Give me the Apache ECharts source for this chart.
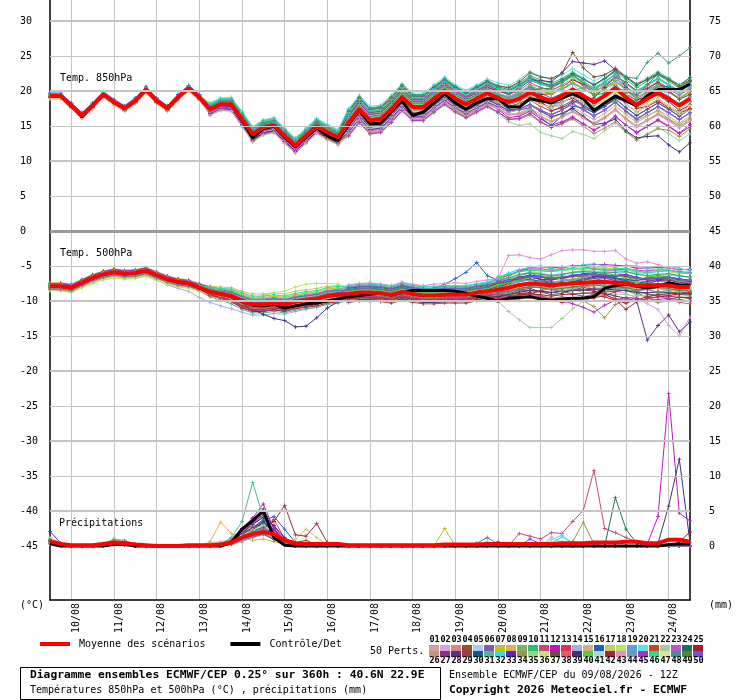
<!DOCTYPE html>
<html><head><meta charset="utf-8">
<script src="https://cdn.jsdelivr.net/npm/echarts@6.0.0/dist/echarts.min.js"></script>
<style>html,body{margin:0;padding:0;background:#fff}#c{width:740px;height:700px}</style>
</head><body><div id="c"></div>
<script>
const categories = ["09/08 12Z","09/08 18Z",
"10/08 00Z","10/08 06Z","10/08 12Z","10/08 18Z","11/08 00Z","11/08 06Z","11/08 12Z","11/08 18Z",
"12/08 00Z","12/08 06Z","12/08 12Z","12/08 18Z","13/08 00Z","13/08 06Z","13/08 12Z","13/08 18Z",
"14/08 00Z","14/08 06Z","14/08 12Z","14/08 18Z","15/08 00Z","15/08 06Z","15/08 12Z","15/08 18Z",
"16/08 00Z","16/08 06Z","16/08 12Z","16/08 18Z","17/08 00Z","17/08 06Z","17/08 12Z","17/08 18Z",
"18/08 00Z","18/08 06Z","18/08 12Z","18/08 18Z","19/08 00Z","19/08 06Z","19/08 12Z","19/08 18Z",
"20/08 00Z","20/08 06Z","20/08 12Z","20/08 18Z","21/08 00Z","21/08 06Z","21/08 12Z","21/08 18Z",
"22/08 00Z","22/08 06Z","22/08 12Z","22/08 18Z","23/08 00Z","23/08 06Z","23/08 12Z","23/08 18Z",
"24/08 00Z","24/08 06Z","24/08 12Z"];
const leftTicks = [-45,-40,-35,-30,-25,-20,-15,-10,-5,0,5,10,15,20,25,30];
const rightTicks = [0,5,10,15,20,25,30,35,40,45,50,55,60,65,70,75];
const gridMinor = [25,15,5,-5,-15,-25,-35];
const gridMajor = [30,20,10,-10,-20,-30,-40];

const t850Mean = [19.3,19.3,17.9,16.5,17.9,19.5,18.4,17.5,18.6,20.2,18.6,17.5,19.1,20.4,19.1,17.4,18.1,18.1,16.0,13.8,14.8,15.1,13.6,12.2,13.6,15.0,14.1,13.4,15.5,17.4,15.8,16.0,17.4,19.1,17.7,17.7,18.9,20.0,18.9,18.1,18.9,19.7,19.0,18.4,18.9,19.8,19.1,18.6,19.3,20.2,19.3,18.4,19.3,20.4,19.1,18.0,18.9,19.8,18.9,17.9,18.9];
const t850Control = [19.3,19.3,17.9,16.3,17.9,19.5,18.4,17.5,18.6,20.2,18.6,17.5,19.1,20.4,19.1,17.4,18.1,18.0,15.8,13.3,14.6,15.0,13.4,12.0,13.4,14.7,13.6,12.9,15.2,17.2,15.3,15.4,17.0,18.6,16.5,17.0,18.3,19.6,18.3,17.4,18.3,18.9,18.9,17.7,17.7,18.9,18.6,18.3,19.0,19.6,18.9,17.2,18.3,19.3,18.6,17.9,19.3,20.2,20.2,20.2,21.0];
const t500Mean = [-7.9,-7.9,-8.1,-7.4,-6.7,-6.2,-5.9,-6.1,-6.0,-5.7,-6.3,-6.9,-7.3,-7.5,-8.1,-8.7,-9.0,-9.3,-10.0,-10.5,-10.5,-10.3,-10.5,-10.1,-9.9,-9.7,-9.3,-9.1,-9.0,-8.8,-8.8,-8.9,-9.1,-8.7,-9.0,-9.2,-9.2,-9.1,-9.1,-9.1,-8.8,-8.6,-8.4,-8.1,-7.7,-7.5,-7.6,-7.8,-7.6,-7.5,-7.4,-7.3,-7.3,-7.4,-7.5,-7.8,-7.8,-7.7,-7.8,-8.0,-8.0];
const t500Control = [-7.9,-7.9,-8.1,-7.4,-6.7,-6.2,-5.9,-6.1,-6.0,-5.7,-6.3,-6.9,-7.3,-7.5,-8.1,-8.7,-9.0,-9.4,-10.1,-10.6,-10.7,-10.5,-11.0,-10.7,-10.4,-10.3,-10.0,-9.7,-9.4,-9.2,-9.0,-8.9,-9.2,-8.8,-8.5,-8.5,-8.5,-8.5,-8.6,-8.9,-9.3,-9.6,-10.0,-9.6,-9.5,-9.4,-9.7,-9.9,-9.7,-9.6,-9.6,-9.4,-8.2,-7.8,-7.6,-7.9,-8.1,-7.9,-7.4,-7.7,-7.8];
const precipMean = [0.7,0.3,0.1,0.1,0.1, 0.3,0.5,0.4,0.2,0.1, 0,0,0,0.1,0.1, 0.1,0.2,0.5,1.2,1.7, 2.0,1.7,0.8,0.4,0.3, 0.3,0.3,0.3,0.1,0.1, 0.1,0.1,0.1,0.1,0.1, 0.1,0.1,0.2,0.2,0.2, 0.2,0.3,0.3,0.3,0.3, 0.3,0.3,0.3,0.4,0.4, 0.4,0.5,0.5,0.5,0.6, 0.6,0.4,0.4,0.9,0.9, 0.6];
const precipControl = [0.3,0,0,0,0, 0,0.2,0.2,0,0, 0,0,0,0,0, 0,0,0.5,2.4,3.6, 5.0,1.2,0.1,0,0, 0,0,0,0,0, 0,0,0,0,0, 0,0,0,0,0, 0,0,0,0,0, 0,0,0,0,0, 0,0,0,0,0, 0,0,0,0.2,0.3, 0.3];

const t850Members = [
[19.5,19.5,18.1,16.7,18.1,19.7,18.6,17.7,18.8,20.4,18.8,17.7,19.3,20.6,19.3,17.8,18.5,18.5,16.5,14.3,15.2,15.7,14.1,12.6,14.1,15.4,14.7,13.9,16.2,18.3,16.5,16.9,18.2,19.8,18.6,18.4,19.7,20.9,19.6,18.9,19.8,20.4,19.6,19.1,19.8,20.9,20.5,20.0,20.9,21.7,20.8,19.9,20.7,21.9,20.6,19.4,20.4,21.4,20.3,19.3,20.4],
[19.1,19.1,17.7,16.3,17.7,19.3,18.2,17.3,18.4,20.0,18.4,17.3,18.9,20.2,18.9,17.1,17.8,17.7,15.6,13.4,14.4,14.7,13.2,11.8,13.2,14.6,13.7,13.0,14.6,16.5,14.8,15.0,16.3,18.0,16.7,16.8,17.9,18.9,17.8,17.1,17.9,18.6,18.0,17.1,17.3,17.9,17.2,16.6,17.3,18.1,17.4,16.5,17.2,18.4,17.1,16.1,16.9,17.7,16.8,15.9,16.8],
[19.4,19.4,18.0,16.6,18.0,19.6,18.5,17.6,18.7,20.3,18.7,17.6,19.2,20.5,19.2,18.0,18.7,18.8,16.8,14.6,15.6,15.9,14.4,13.0,14.4,15.8,14.9,14.2,16.6,18.6,17.1,17.1,18.6,20.4,18.9,18.9,20.0,21.3,20.1,19.2,20.1,20.9,20.0,19.6,20.4,21.6,21.1,20.6,21.3,22.1,21.4,20.3,21.2,22.5,21.0,20.0,20.8,21.9,20.9,19.9,20.8],
[19.2,19.2,17.8,16.4,17.8,19.4,18.3,17.4,18.5,20.1,18.5,17.4,19.0,20.3,19.0,17.6,18.4,18.4,16.3,14.1,15.1,15.4,13.9,12.5,13.9,15.3,14.4,13.7,16.0,17.9,16.2,16.5,17.9,19.6,18.2,18.2,19.4,20.5,19.4,18.6,19.4,20.2,19.4,18.9,19.5,20.5,20.0,19.6,20.3,21.2,20.3,19.4,20.3,21.4,20.1,19.0,19.9,20.8,19.9,18.9,19.9],
[19.6,19.6,18.2,16.8,18.2,19.8,18.7,17.8,18.9,20.5,18.9,17.8,19.4,20.7,19.4,17.2,17.9,17.9,15.8,13.6,14.6,14.9,13.4,12.0,13.4,14.8,13.9,13.2,15.0,16.9,15.3,15.5,16.9,18.6,17.2,17.2,18.4,19.5,18.4,17.6,18.4,19.2,18.6,17.8,18.2,19.0,18.2,17.6,18.3,19.2,18.8,18.5,19.8,21.2,20.4,19.6,20.8,22.0,21.0,20.1,21.2],
[19.3,19.3,17.9,16.5,17.9,19.5,18.4,17.5,18.6,20.2,18.6,17.5,19.1,20.4,19.1,17.9,18.6,18.6,16.6,14.4,15.4,15.7,14.2,12.8,14.2,15.6,14.7,14.0,16.8,18.9,17.3,17.5,18.9,20.6,19.2,19.2,20.4,21.5,20.4,19.6,20.4,21.2,20.5,19.7,19.9,20.6,19.7,19.0,19.6,20.4,19.4,18.5,19.5,20.8,19.6,18.6,19.6,20.7,19.8,18.9,19.9],
[19.0,19.0,17.6,16.2,17.6,19.2,18.1,17.2,18.3,19.9,18.3,17.2,18.8,20.1,18.8,16.8,17.5,17.4,15.2,13.0,14.0,14.3,12.8,11.4,12.8,14.2,13.3,12.7,15.6,17.7,16.1,16.3,17.7,19.4,18.0,18.0,19.2,20.3,19.2,18.4,19.2,20.0,19.4,18.9,19.6,20.7,20.0,19.5,20.3,21.2,20.4,19.3,20.2,21.5,20.1,19.0,19.8,20.9,20.0,18.9,19.8],
[19.5,19.5,18.1,16.7,18.1,19.7,18.6,17.7,18.8,20.4,18.8,17.7,19.3,20.6,19.3,17.6,18.3,18.3,16.2,14.0,15.0,15.3,13.8,12.4,13.8,15.2,14.2,13.5,14.5,16.3,14.6,14.8,16.2,17.8,16.5,16.5,17.7,18.7,17.7,16.9,17.6,18.4,17.6,16.7,16.8,17.3,16.4,15.7,16.3,17.1,16.3,15.4,16.2,17.4,16.1,15.0,15.9,16.7,15.9,14.9,15.8],
[19.2,19.2,17.8,16.4,17.8,19.4,18.3,17.4,18.5,20.1,18.5,17.4,19.0,20.3,19.0,17.0,17.7,17.6,15.5,13.3,14.3,14.6,13.1,11.7,13.1,14.5,13.6,12.9,15.7,17.6,16.0,16.2,17.6,19.3,17.9,17.9,19.1,20.2,19.1,18.3,19.1,19.9,19.1,18.5,19.0,19.9,19.0,18.4,19.2,20.3,19.0,17.6,18.0,18.6,17.0,15.8,16.5,17.2,16.0,15.2,16.1],
[19.6,19.6,18.2,16.8,18.2,19.8,18.7,17.8,18.9,20.5,18.9,17.8,19.4,20.7,19.4,18.2,18.9,19.0,17.0,14.8,15.8,16.1,14.6,13.2,14.6,16.0,15.1,14.4,17.3,19.2,17.6,17.8,19.2,20.9,19.5,19.5,20.7,21.8,20.7,19.9,20.7,21.5,20.8,20.4,21.1,22.2,21.6,21.1,21.8,22.7,21.8,20.9,21.8,22.9,21.6,20.5,21.4,22.3,21.4,20.4,21.4],
[18.9,18.9,17.5,16.1,17.5,19.1,18.0,17.1,18.2,19.8,18.2,17.1,18.7,20.0,18.7,16.9,17.6,17.6,15.4,13.2,14.2,14.5,13.0,11.6,13.0,14.4,13.5,12.8,14.7,16.6,15.0,15.2,16.6,18.3,16.9,16.9,18.1,19.2,18.1,17.3,18.1,18.9,18.3,17.6,17.9,18.7,17.8,17.1,17.8,18.7,17.8,16.9,17.8,18.9,17.6,16.5,17.4,18.3,17.4,16.4,17.4],
[19.3,19.3,17.9,16.5,17.9,19.5,18.4,17.5,18.6,20.2,18.6,17.5,19.1,20.4,19.1,17.2,17.9,17.8,15.7,13.5,14.5,14.8,13.3,11.9,13.3,14.7,13.8,13.1,14.0,15.9,14.3,14.5,15.9,17.6,16.2,16.2,17.3,18.4,17.3,16.6,17.3,18.2,17.4,16.2,16.4,17.1,16.0,15.1,15.6,16.3,15.3,14.4,15.2,16.4,15.1,14.1,15.0,15.9,15.0,14.0,15.2],
[19.4,19.4,18.0,16.6,18.0,19.6,18.5,17.6,18.7,20.3,18.7,17.6,19.2,20.5,19.2,17.7,18.4,18.4,16.4,14.2,15.2,15.5,14.0,12.6,14.0,15.4,14.5,13.8,16.1,18.0,16.4,16.6,18.0,19.7,18.3,18.3,19.5,20.6,19.5,18.7,19.5,20.3,19.5,19.0,19.6,20.7,20.1,19.6,20.2,21.1,20.3,19.5,20.4,21.5,20.1,18.9,19.8,20.9,20.0,18.9,19.9],
[19.1,19.1,17.7,16.3,17.7,19.3,18.2,17.3,18.4,20.0,18.4,17.3,18.9,20.2,18.9,17.4,18.1,18.1,16.0,13.8,14.8,15.1,13.6,12.2,13.6,15.0,14.1,13.4,15.2,17.1,15.5,15.7,17.1,18.8,17.4,17.4,18.6,19.7,18.6,17.8,18.6,19.4,18.9,18.6,19.3,20.3,20.4,20.2,20.8,21.0,19.5,18.0,18.4,19.5,18.8,18.2,19.6,21.0,20.2,19.5,20.6],
[19.5,19.5,18.1,16.7,18.1,19.7,18.6,17.7,18.8,20.4,18.8,17.7,19.3,20.6,19.3,16.9,17.5,17.5,15.3,13.1,14.1,14.4,12.9,11.5,12.9,14.3,13.4,12.7,13.9,15.8,14.2,14.4,15.8,17.5,16.1,16.1,17.3,18.4,17.3,16.5,17.3,18.1,17.5,16.6,16.9,17.5,16.7,16.1,16.8,17.7,16.8,15.9,16.8,17.9,16.6,15.5,16.4,17.3,16.4,15.4,16.4],
[19.2,19.2,17.8,16.4,17.8,19.4,18.3,17.4,18.5,20.1,18.5,17.4,19.0,20.3,19.0,17.6,18.3,18.3,16.2,14.0,15.0,15.3,13.8,12.4,13.8,15.2,14.3,13.6,14.9,16.8,15.2,15.4,16.8,18.5,17.1,17.1,18.3,19.4,18.3,17.5,18.3,19.1,18.4,17.4,17.3,17.6,16.2,15.1,16.4,17.8,17.6,16.9,17.8,18.9,17.6,16.5,17.4,18.3,17.4,16.4,17.4],
[19.7,19.7,18.3,16.9,18.3,19.9,18.8,17.9,19.0,20.6,19.0,17.9,19.5,20.8,19.5,18.1,18.8,18.8,16.9,14.7,15.7,16.0,14.5,13.1,14.5,15.9,15.0,14.3,16.5,18.4,16.8,17.0,18.4,20.1,18.7,18.7,19.9,21.0,19.9,19.1,19.9,20.7,20.2,19.8,20.6,21.7,21.1,20.6,21.3,22.2,21.3,20.4,21.3,22.4,21.1,20.0,20.9,21.8,20.9,19.9,20.9],
[19.3,19.3,17.9,16.5,17.9,19.5,18.4,17.5,18.6,20.2,18.6,17.5,19.1,20.4,19.1,17.3,18.0,18.0,15.9,13.7,14.7,15.0,13.5,12.1,13.5,14.9,14.0,13.3,15.9,17.8,16.2,16.4,17.8,19.5,18.1,18.1,19.3,20.4,19.3,18.5,19.3,20.1,19.2,18.4,18.7,19.4,18.6,18.1,18.8,19.7,18.8,17.9,18.8,19.9,18.6,17.5,18.4,19.3,18.4,17.4,18.4],
[19.0,19.0,17.6,16.2,17.6,19.2,18.1,17.2,18.3,19.9,18.3,17.2,18.8,20.1,18.8,17.8,18.5,18.5,16.5,14.3,15.3,15.6,14.1,12.7,14.1,15.5,14.6,13.9,15.3,17.2,15.6,15.8,17.2,18.9,17.5,17.5,18.7,19.8,18.7,17.9,18.7,19.5,19.0,18.7,19.4,20.4,19.2,17.8,17.9,18.5,18.2,17.9,19.2,20.6,20.0,19.4,20.3,20.8,19.2,17.8,18.5],
[19.4,19.4,18.0,16.6,18.0,19.6,18.5,17.6,18.7,20.3,18.7,17.6,19.2,20.5,19.2,18.3,19.0,19.1,17.1,14.9,15.9,16.2,14.7,13.3,14.7,16.1,15.2,14.5,17.5,19.4,17.8,18.0,19.4,21.1,19.7,19.7,20.9,22.0,20.9,20.1,20.9,21.7,21.2,20.8,21.6,22.8,22.1,21.6,22.3,23.2,22.3,21.4,22.3,23.4,22.1,21.0,21.9,22.8,21.9,20.9,21.9],
[19.1,19.1,17.7,16.3,17.7,19.3,18.2,17.3,18.4,20.0,18.4,17.3,18.9,20.2,18.9,16.7,17.4,17.3,15.1,12.9,13.9,14.2,12.7,11.3,12.7,14.1,13.2,12.5,14.5,16.4,14.8,15.0,16.4,18.1,16.7,16.7,17.9,19.0,17.9,17.1,17.9,18.7,18.0,17.1,17.4,18.1,17.3,16.6,17.3,18.2,17.3,16.4,17.3,18.4,17.1,16.0,16.9,17.8,16.9,15.9,16.9],
[19.6,19.6,18.2,16.8,18.2,19.8,18.7,17.8,18.9,20.5,18.9,17.8,19.4,20.7,19.4,16.5,17.2,17.1,14.9,12.7,13.7,14.0,12.5,11.1,12.5,13.9,13.0,12.3,13.5,15.4,13.8,14.0,15.4,17.1,15.7,15.7,16.9,18.0,16.9,16.1,16.9,17.7,16.8,15.6,15.1,15.3,14.1,13.6,13.2,14.2,13.8,13.2,14.3,15.4,14.1,13.0,13.9,14.8,13.9,12.9,13.9],
[19.2,19.2,17.8,16.4,17.8,19.4,18.3,17.4,18.5,20.1,18.5,17.4,19.0,20.3,19.0,17.9,18.6,18.6,16.7,14.5,15.5,15.8,14.3,12.9,14.3,15.7,14.8,14.1,16.4,18.3,16.7,16.9,18.3,20.0,18.6,18.6,19.8,20.9,19.8,19.0,19.8,20.6,20.0,19.5,20.1,21.2,20.5,20.1,20.8,21.7,20.8,19.9,20.8,21.9,20.6,19.5,20.4,21.3,20.4,19.4,20.4],
[19.3,19.3,17.9,16.5,17.9,19.5,18.4,17.5,18.6,20.2,18.6,17.5,19.1,20.4,19.1,17.6,18.4,18.4,16.3,14.1,15.1,15.4,13.9,12.5,13.9,15.3,14.4,13.7,16.8,18.7,17.1,17.3,18.7,20.4,19.0,19.0,20.2,21.3,20.2,19.4,20.2,21.0,20.4,20.0,20.8,21.8,21.2,20.8,21.6,22.5,21.7,20.9,21.8,23.0,21.9,20.8,21.7,22.6,21.7,20.8,21.9],
[19.5,19.5,18.1,16.7,18.1,19.7,18.6,17.7,18.8,20.4,18.8,17.7,19.3,20.6,19.3,17.1,17.8,17.7,15.6,13.4,14.4,14.7,13.2,11.8,13.2,14.6,13.7,13.0,15.5,17.4,15.8,16.0,17.4,19.1,17.7,17.7,18.9,20.0,18.9,18.1,18.9,19.7,19.0,18.3,18.7,19.5,19.5,19.6,20.6,21.6,21.0,20.2,20.5,21.0,19.2,17.5,17.8,18.6,17.6,16.8,17.5],
[18.9,18.9,17.5,16.1,17.5,19.1,18.0,17.1,18.2,19.8,18.2,17.1,18.7,20.0,18.7,16.6,17.3,17.2,15.0,12.8,13.8,14.1,12.6,11.2,12.6,14.0,13.1,12.4,14.1,16.0,14.4,14.6,16.0,17.7,16.3,16.3,17.5,18.6,17.5,16.7,17.5,18.3,17.5,16.6,16.6,17.2,16.3,15.6,16.3,17.2,16.3,15.4,16.3,17.4,16.1,15.0,15.9,16.8,15.9,14.9,15.9],
[19.4,19.4,18.0,16.6,18.0,19.6,18.5,17.6,18.7,20.3,18.7,17.6,19.2,20.5,19.2,17.9,18.6,18.6,16.6,14.4,15.4,15.7,14.2,12.8,14.2,15.6,14.7,14.0,16.6,18.5,16.9,17.1,18.5,20.2,18.8,18.8,20.0,21.1,20.0,19.2,20.0,20.8,20.2,19.7,20.4,21.5,21.0,20.6,21.3,22.2,21.3,20.4,21.3,22.4,21.1,20.0,20.9,21.8,20.9,19.9,20.9],
[19.1,19.1,17.7,16.3,17.7,19.3,18.2,17.3,18.4,20.0,18.4,17.3,18.9,20.2,18.9,17.5,18.2,18.2,16.1,13.9,14.9,15.2,13.7,12.3,13.7,15.1,14.2,13.5,16.3,18.2,16.6,16.8,18.2,19.9,18.5,18.5,19.7,20.8,19.7,18.9,19.7,20.5,20.0,19.6,20.5,21.6,21.5,21.3,22.6,24.2,24.0,23.8,24.3,23.0,20.5,18.8,19.0,19.4,18.5,17.2,18.0],
[19.6,19.6,18.2,16.8,18.2,19.8,18.7,17.8,18.9,20.5,18.9,17.8,19.4,20.7,19.4,17.2,17.9,17.9,15.7,13.5,14.5,14.8,13.3,11.9,13.3,14.7,13.8,13.1,15.1,17.0,15.4,15.6,17.0,18.7,17.3,17.3,18.5,19.6,18.5,17.7,18.5,19.3,18.6,17.8,18.2,19.0,18.2,17.6,18.3,19.2,18.3,17.4,18.3,19.4,18.1,17.0,17.9,18.8,17.9,16.9,17.9],
[19.3,19.3,17.9,16.5,17.9,19.5,18.4,17.5,18.6,20.2,18.6,17.5,19.1,20.4,19.1,17.7,18.4,18.4,16.4,14.2,15.2,15.5,14.0,12.6,14.0,15.4,14.5,13.8,16.1,18.0,16.4,16.6,18.0,19.7,18.3,18.3,19.5,20.6,19.5,18.7,19.5,20.3,19.6,19.2,19.8,20.7,19.4,18.2,18.4,19.0,18.0,17.1,17.9,19.0,18.4,17.8,19.2,20.8,20.6,20.0,21.3],
[19.0,19.0,17.6,16.2,17.6,19.2,18.1,17.2,18.3,19.9,18.3,17.2,18.8,20.1,18.8,17.0,17.7,17.6,15.5,13.3,14.3,14.6,13.1,11.7,13.1,14.5,13.6,12.9,15.5,17.4,15.8,16.0,17.4,19.1,17.7,17.7,18.9,20.0,18.9,18.1,18.9,19.7,18.8,18.0,18.5,19.3,18.6,18.2,19.0,20.0,19.2,18.4,19.4,20.6,19.4,18.3,19.1,20.0,19.0,18.0,19.0],
[19.5,19.5,18.1,16.7,18.1,19.7,18.6,17.7,18.8,20.4,18.8,17.7,19.3,20.6,19.3,18.0,18.7,18.8,16.8,14.6,15.6,15.9,14.4,13.0,14.4,15.8,14.9,14.2,16.9,18.8,17.2,17.4,18.8,20.5,19.1,19.1,20.3,21.4,20.3,19.5,20.3,21.1,20.4,19.9,20.6,21.6,21.0,20.5,21.2,22.1,21.3,20.4,21.3,22.4,21.1,20.0,20.9,21.8,20.9,19.9,20.9],
[19.2,19.2,17.8,16.4,17.8,19.4,18.3,17.4,18.5,20.1,18.5,17.4,19.0,20.3,19.0,16.8,17.5,17.5,15.3,13.1,14.1,14.4,12.9,11.5,12.9,14.3,13.4,12.7,14.2,16.1,14.5,14.7,16.1,17.8,16.4,16.4,17.6,18.7,17.6,16.8,17.6,18.4,17.8,17.0,17.3,18.0,17.2,16.6,17.3,18.2,17.3,16.4,17.3,18.4,17.1,16.0,16.9,17.8,16.9,15.9,16.9],
[19.4,19.4,18.0,16.6,18.0,19.6,18.5,17.6,18.7,20.3,18.7,17.6,19.2,20.5,19.2,17.2,17.9,17.9,15.8,13.6,14.6,14.9,13.4,12.0,13.4,14.8,13.9,13.2,13.7,15.6,14.0,14.2,15.6,17.3,15.9,15.9,17.1,18.2,17.1,16.3,17.1,17.9,17.0,16.0,16.0,16.6,15.5,14.8,15.3,16.0,15.0,13.9,14.7,15.6,14.2,13.0,13.8,14.6,14.4,13.5,14.6],
[19.1,19.1,17.7,16.3,17.7,19.3,18.2,17.3,18.4,20.0,18.4,17.3,18.9,20.2,18.9,17.6,18.3,18.3,16.2,14.0,15.0,15.3,13.8,12.4,13.8,15.2,14.3,13.6,16.2,18.1,16.5,16.7,18.1,19.8,18.4,18.4,19.6,20.7,19.6,18.8,19.6,20.4,19.7,19.2,19.8,20.8,20.1,19.6,20.3,21.2,20.3,19.4,20.3,21.4,20.1,19.0,19.9,20.8,19.9,18.9,19.9],
[19.6,19.6,18.2,16.8,18.2,19.8,18.7,17.8,18.9,20.5,18.9,17.8,19.4,20.7,19.4,17.4,18.1,18.1,16.0,13.8,14.8,15.1,13.6,12.2,13.6,15.0,14.1,13.4,15.3,17.2,15.6,15.8,17.2,18.9,17.5,17.5,18.7,19.8,18.7,17.9,18.7,19.5,18.9,18.4,19.0,19.8,19.9,19.8,20.6,21.8,21.2,20.3,20.5,21.0,19.5,18.1,18.4,19.0,17.8,16.7,17.2],
[19.3,19.3,17.9,16.5,17.9,19.5,18.4,17.5,18.6,20.2,18.6,17.5,19.1,20.4,19.1,17.8,18.5,18.5,16.5,14.3,15.3,15.6,14.1,12.7,14.1,15.5,14.6,13.9,17.1,19.0,17.4,17.6,19.0,20.7,19.3,19.3,20.5,21.6,20.5,19.7,20.5,21.3,20.7,20.5,21.3,22.6,22.0,21.8,22.5,25.5,23.3,22.0,22.3,23.2,22.0,21.0,21.6,22.4,21.6,20.6,21.5],
[19.2,19.2,17.8,16.4,17.8,19.4,18.3,17.4,18.5,20.1,18.5,17.4,19.0,20.3,19.0,17.1,17.8,17.7,15.6,13.4,14.4,14.7,13.2,11.8,13.2,14.6,13.7,13.0,14.8,16.7,15.1,15.3,16.7,18.4,17.0,17.0,18.2,19.3,18.2,17.4,18.2,19.0,18.4,17.7,18.1,19.0,18.2,17.6,18.3,19.2,18.3,17.4,18.3,19.4,18.1,17.0,17.9,18.8,17.9,16.9,17.9],
[19.5,19.5,18.1,16.7,18.1,19.7,18.6,17.7,18.8,20.4,18.8,17.7,19.3,20.6,19.3,16.8,17.5,17.4,15.2,13.0,14.0,14.3,12.8,11.4,12.8,14.2,13.3,12.6,14.5,16.4,14.8,15.0,16.4,18.1,16.7,16.7,17.9,19.0,17.9,17.1,17.9,18.7,18.0,17.2,17.4,18.0,17.1,16.3,16.8,17.5,16.4,15.2,15.4,16.0,14.3,13.3,13.5,13.6,12.3,11.3,12.6],
[19.0,19.0,17.6,16.2,17.6,19.2,18.1,17.2,18.3,19.9,18.3,17.2,18.8,20.1,18.8,17.9,18.6,18.6,16.6,14.4,15.4,15.7,14.2,12.8,14.2,15.6,14.7,14.0,15.8,17.7,16.1,16.3,17.7,19.4,18.0,18.0,19.2,20.3,19.2,18.4,19.2,20.0,19.5,19.1,19.7,20.7,20.1,19.6,20.3,21.2,20.4,19.5,20.4,21.5,20.2,19.1,20.0,20.9,20.0,19.0,20.0],
[19.4,19.4,18.0,16.6,18.0,19.6,18.5,17.6,18.7,20.3,18.7,17.6,19.2,20.5,19.2,16.9,17.6,17.6,15.4,13.2,14.2,14.5,13.0,11.6,13.0,14.4,13.5,12.8,14.4,16.3,14.7,14.9,16.3,18.0,16.6,16.6,17.8,18.9,17.8,17.0,17.8,18.6,17.9,17.0,17.3,18.0,17.2,16.6,17.3,18.2,17.3,16.4,17.3,18.4,17.1,16.0,16.9,17.8,16.9,15.9,16.9],
[19.1,19.1,17.7,16.3,17.7,19.3,18.2,17.3,18.4,20.0,18.4,17.3,18.9,20.2,18.9,17.5,18.2,18.2,16.1,13.9,14.9,15.2,13.7,12.3,13.7,15.1,14.2,13.5,15.7,17.6,16.0,16.2,17.6,19.3,17.9,17.9,19.1,20.2,19.1,18.3,19.1,19.9,19.2,18.5,19.0,19.9,18.6,17.2,17.6,18.4,18.8,19.0,20.5,22.0,21.2,20.0,20.4,21.2,20.0,18.8,19.5],
[19.3,19.3,17.9,16.5,17.9,19.5,18.4,17.5,18.6,20.2,18.6,17.5,19.1,20.4,19.1,16.6,17.3,17.2,15.0,12.8,13.8,14.1,12.6,11.2,12.6,14.0,13.1,12.4,13.8,15.7,14.1,14.3,15.7,17.4,16.0,16.0,17.2,18.3,17.2,16.4,17.2,18.0,17.5,16.6,16.7,17.3,16.3,15.6,16.2,17.0,16.1,15.2,16.1,17.2,15.9,14.8,15.7,16.6,15.7,14.7,15.7],
[19.6,19.6,18.2,16.8,18.2,19.8,18.7,17.8,18.9,20.5,18.9,17.8,19.4,20.7,19.4,17.7,18.4,18.4,16.4,14.2,15.2,15.5,14.0,12.6,14.0,15.4,14.5,13.8,16.0,17.9,16.3,16.5,17.9,19.6,18.2,18.2,19.4,20.5,19.4,18.6,19.4,20.2,19.5,19.0,19.6,20.6,19.1,17.8,18.6,20.0,20.5,20.2,21.0,22.0,20.2,18.4,18.8,19.6,19.0,18.2,19.2],
[19.2,19.2,17.8,16.4,17.8,19.4,18.3,17.4,18.5,20.1,18.5,17.4,19.0,20.3,19.0,17.0,17.7,17.6,15.5,13.3,14.3,14.6,13.1,11.7,13.1,14.5,13.6,12.9,13.6,15.5,13.9,14.1,15.5,17.2,15.8,15.8,17.0,18.1,17.0,16.2,17.0,17.8,17.0,15.9,16.1,16.8,15.6,14.8,15.4,16.2,15.3,14.4,15.3,16.4,15.1,14.0,14.9,15.8,14.9,13.9,14.9],
[19.5,19.5,18.1,16.7,18.1,19.7,18.6,17.7,18.8,20.4,18.8,17.7,19.3,20.6,19.3,18.1,18.8,18.8,16.9,14.7,15.7,16.0,14.5,13.1,14.5,15.9,15.0,14.3,16.8,18.7,17.1,17.3,18.7,20.4,19.0,19.0,20.2,21.3,20.2,19.4,20.2,21.0,20.3,19.8,20.5,21.6,21.0,20.5,21.2,22.1,21.2,20.3,21.2,22.3,21.0,19.9,20.8,21.7,20.8,19.8,20.8],
[18.9,18.9,17.5,16.1,17.5,19.1,18.0,17.1,18.2,19.8,18.2,17.1,18.7,20.0,18.7,17.2,17.9,17.9,15.8,13.6,14.6,14.9,13.4,12.0,13.4,14.8,13.9,13.2,14.9,16.8,15.2,15.4,16.8,18.5,17.1,17.1,18.3,19.4,18.3,17.5,18.3,19.1,18.4,17.6,18.0,18.8,18.1,17.6,18.3,19.2,18.3,17.4,18.3,19.4,18.1,17.0,17.9,18.8,17.9,16.9,17.9],
[19.4,19.4,18.0,16.6,18.0,19.6,18.5,17.6,18.7,20.3,18.7,17.6,19.2,20.5,19.2,17.9,18.6,18.7,16.7,14.5,15.5,15.8,14.3,12.9,14.3,15.7,14.8,14.1,17.2,19.1,17.5,17.7,19.1,20.8,19.4,19.4,20.6,21.7,20.6,19.8,20.6,21.4,20.6,20.2,20.9,22.0,21.3,20.8,21.5,22.4,21.7,20.8,21.7,22.8,22.0,21.8,24.1,25.4,24.0,25.0,26.2],
[19.1,19.1,17.7,16.3,17.7,19.3,18.2,17.3,18.4,20.0,18.4,17.3,18.9,20.2,18.9,17.3,18.0,18.0,15.9,13.7,14.7,15.0,13.5,12.1,13.5,14.9,14.0,13.3,15.6,17.5,15.9,16.1,17.5,19.2,17.8,17.8,19.0,20.1,19.0,18.2,19.0,19.8,19.1,18.6,19.1,20.1,20.3,20.4,21.3,22.4,21.0,19.4,19.7,20.4,19.9,19.4,20.9,22.4,21.7,20.8,21.6],
[19.7,19.7,18.3,16.9,18.3,19.9,18.8,17.9,19.0,20.6,19.0,17.9,19.5,20.8,19.5,17.1,17.8,17.8,15.7,13.5,14.5,14.8,13.3,11.9,13.3,14.7,13.8,13.1,14.6,16.5,14.9,15.1,16.5,18.2,16.8,16.8,18.0,19.1,18.0,17.2,18.0,18.8,18.1,17.2,17.4,18.1,17.2,16.6,17.3,18.2,17.3,16.4,17.3,18.4,17.1,16.0,16.9,17.8,16.9,15.9,16.9]
];

const t500Members = [
[-7.6,-7.6,-7.8,-7.1,-6.4,-5.9,-5.6,-5.8,-5.7,-5.4,-6.0,-6.6,-7.0,-7.2,-7.8,-8.3,-8.6,-8.9,-9.5,-10.0,-10.0,-9.8,-10.0,-9.6,-9.4,-9.2,-8.8,-8.6,-8.2,-8.0,-8.0,-8.1,-8.3,-7.9,-8.2,-8.4,-8.4,-8.3,-8.3,-8.3,-8.0,-7.8,-7.5,-7.2,-6.8,-6.4,-6.9,-7.6,-7.9,-8.2,-8.0,-7.4,-7.0,-7.3,-7.9,-8.5,-8.2,-7.6,-7.5,-7.9,-8.2],
[-8.1,-8.1,-8.3,-7.6,-6.9,-6.4,-6.1,-6.3,-6.2,-5.9,-6.5,-7.1,-7.5,-7.7,-8.3,-8.9,-9.2,-9.6,-10.3,-10.8,-10.8,-10.6,-10.8,-10.4,-10.2,-10.0,-9.6,-9.4,-9.5,-9.3,-9.3,-9.4,-9.6,-9.2,-9.5,-9.7,-9.7,-9.6,-9.6,-9.6,-9.3,-9.1,-9.1,-8.9,-8.6,-8.5,-8.7,-8.8,-8.6,-8.5,-8.4,-8.3,-8.4,-8.6,-8.9,-9.6,-10.4,-11.2,-13.5,-15.0,-12.3],
[-7.8,-7.8,-8.0,-7.3,-6.6,-6.1,-5.8,-6.0,-5.9,-5.6,-6.2,-6.8,-7.2,-7.4,-7.9,-8.3,-8.5,-8.7,-9.3,-9.8,-9.8,-9.6,-9.8,-9.4,-9.2,-9.0,-8.6,-8.4,-8.0,-7.8,-7.8,-7.9,-8.1,-7.7,-8.0,-8.2,-8.2,-8.1,-8.1,-8.1,-7.8,-7.6,-7.2,-6.8,-6.3,-6.0,-6.1,-6.3,-6.6,-7.2,-7.8,-8.3,-8.0,-7.6,-7.0,-6.8,-7.3,-7.9,-8.4,-8.6,-8.2],
[-8.3,-8.3,-8.5,-7.8,-7.1,-6.6,-6.3,-6.5,-6.4,-6.1,-6.7,-7.3,-7.7,-7.9,-8.4,-8.9,-9.2,-9.5,-10.2,-10.7,-10.7,-10.5,-10.7,-10.3,-10.1,-9.9,-9.5,-9.3,-8.7,-8.5,-8.5,-8.6,-8.8,-8.4,-8.7,-8.9,-8.9,-8.8,-8.8,-8.8,-8.5,-8.3,-8.0,-7.7,-7.2,-7.0,-7.4,-8.1,-8.6,-9.0,-9.3,-9.6,-9.2,-8.7,-8.4,-8.8,-9.5,-10.1,-9.8,-9.4,-9.7],
[-7.7,-7.7,-7.9,-7.2,-6.5,-6.0,-5.7,-5.9,-5.8,-5.5,-6.1,-6.7,-7.1,-7.3,-7.9,-8.4,-8.7,-9.0,-9.7,-10.2,-10.2,-10.0,-10.2,-9.8,-9.6,-9.4,-9.0,-8.8,-9.3,-9.1,-9.1,-9.2,-9.4,-9.0,-9.3,-9.5,-9.5,-9.4,-9.4,-9.4,-9.1,-8.9,-8.8,-8.5,-8.1,-8.0,-7.6,-7.0,-6.5,-6.2,-6.4,-6.9,-7.3,-7.0,-6.6,-6.9,-7.5,-7.8,-7.4,-7.1,-7.3],
[-7.9,-7.9,-8.1,-7.4,-6.7,-6.2,-5.9,-6.1,-6.0,-5.7,-6.3,-6.9,-7.3,-7.5,-8.2,-8.9,-9.3,-9.7,-10.5,-11.0,-11.0,-10.8,-11.0,-10.6,-10.4,-10.2,-9.8,-9.6,-8.5,-8.3,-8.3,-8.4,-8.6,-8.2,-8.5,-8.7,-8.7,-8.6,-8.6,-8.6,-8.3,-8.1,-7.7,-7.3,-6.8,-6.5,-6.6,-6.8,-6.6,-6.5,-6.4,-6.3,-6.3,-6.4,-6.5,-6.8,-6.8,-6.7,-6.8,-7.0,-7.0],
[-7.4,-7.4,-7.6,-6.9,-6.2,-5.7,-5.4,-5.6,-5.5,-5.2,-5.8,-6.4,-6.8,-7.0,-7.5,-8.0,-8.2,-8.4,-9.0,-9.5,-9.5,-9.3,-9.5,-9.1,-8.9,-8.7,-8.3,-8.1,-8.4,-8.2,-8.2,-8.3,-8.5,-8.1,-8.4,-8.6,-8.6,-8.5,-8.5,-8.5,-8.2,-8.0,-7.9,-7.6,-7.2,-7.0,-7.1,-7.3,-7.1,-7.0,-6.9,-6.8,-6.8,-6.9,-7.0,-7.3,-7.3,-7.2,-7.3,-7.5,-7.5],
[-8.2,-8.2,-8.4,-7.7,-7.0,-6.5,-6.2,-6.4,-6.3,-6.0,-6.6,-7.2,-7.6,-7.8,-8.5,-9.2,-9.6,-10.0,-10.8,-11.3,-11.3,-11.1,-11.3,-10.9,-10.7,-10.5,-10.1,-9.9,-9.8,-9.6,-9.6,-9.7,-9.9,-9.5,-9.8,-10.0,-10.0,-9.9,-9.9,-9.9,-9.6,-9.4,-9.2,-9.0,-8.6,-8.5,-8.6,-8.8,-8.6,-8.5,-8.4,-8.3,-8.3,-8.4,-8.5,-8.8,-8.8,-8.7,-8.8,-9.0,-9.0],
[-7.8,-7.8,-8.0,-7.3,-6.6,-6.1,-5.8,-6.0,-5.9,-5.6,-6.2,-6.8,-7.2,-7.4,-8.0,-8.6,-8.9,-9.2,-10.0,-10.5,-10.5,-10.3,-10.5,-10.1,-9.9,-9.7,-9.3,-9.1,-8.6,-8.4,-8.4,-8.5,-8.7,-8.3,-8.6,-8.8,-8.8,-8.7,-8.7,-8.7,-8.4,-8.2,-7.6,-7.0,-6.4,-6.0,-6.5,-7.2,-7.8,-8.3,-8.8,-9.0,-8.6,-8.2,-8.5,-9.1,-9.4,-9.0,-8.7,-9.0,-9.3],
[-8.0,-8.0,-8.2,-7.5,-6.8,-6.3,-6.0,-6.2,-6.1,-5.8,-6.4,-7.0,-7.4,-7.6,-8.0,-8.4,-8.6,-8.9,-9.6,-10.1,-10.1,-9.9,-10.1,-9.7,-9.5,-9.3,-8.9,-8.7,-7.8,-7.6,-7.6,-7.7,-7.9,-7.5,-7.8,-8.0,-8.0,-7.9,-7.9,-7.9,-7.6,-7.4,-6.9,-6.4,-5.8,-5.5,-5.6,-5.8,-5.6,-5.5,-5.4,-5.3,-5.3,-5.4,-5.5,-5.8,-5.8,-5.7,-5.8,-6.0,-6.0],
[-7.5,-7.5,-7.7,-7.0,-6.3,-5.8,-5.5,-5.7,-5.6,-5.3,-5.9,-6.5,-6.9,-7.1,-7.9,-8.7,-9.1,-9.5,-10.3,-10.8,-10.8,-10.6,-10.8,-10.4,-10.2,-10.0,-9.6,-9.4,-9.5,-9.3,-9.3,-9.4,-9.6,-9.2,-9.5,-9.7,-9.7,-9.6,-9.6,-9.6,-9.3,-9.1,-9.2,-9.1,-8.9,-9.0,-8.5,-7.8,-7.2,-6.9,-6.6,-6.3,-6.5,-6.9,-7.2,-7.0,-6.7,-6.5,-6.8,-7.2,-7.4],
[-8.1,-8.1,-8.3,-7.6,-6.9,-6.4,-6.1,-6.3,-6.2,-5.9,-6.5,-7.1,-7.5,-7.7,-8.2,-8.6,-8.9,-9.1,-9.8,-10.3,-10.3,-10.1,-10.3,-9.9,-9.7,-9.5,-9.1,-8.9,-8.9,-8.7,-8.7,-8.8,-9.0,-8.6,-8.9,-9.1,-9.1,-9.0,-9.0,-8.9,-8.4,-8.0,-7.2,-6.4,-5.7,-5.2,-5.1,-5.3,-5.1,-5.0,-4.9,-4.8,-4.8,-4.9,-5.0,-5.3,-5.3,-5.2,-5.3,-5.5,-5.5],
[-7.9,-7.9,-8.1,-7.4,-6.7,-6.2,-5.9,-6.1,-6.0,-5.7,-6.3,-6.9,-7.3,-7.5,-8.3,-9.0,-9.4,-9.8,-10.6,-11.1,-11.1,-10.9,-11.1,-10.7,-10.5,-10.3,-9.9,-9.7,-10.0,-9.8,-9.8,-9.9,-10.1,-9.7,-10.0,-10.2,-10.2,-10.1,-10.1,-10.0,-9.6,-9.3,-9.0,-8.6,-8.2,-8.0,-8.1,-8.3,-8.1,-8.0,-7.9,-7.8,-7.8,-7.9,-8.0,-8.3,-8.3,-8.2,-8.3,-8.5,-8.5],
[-8.5,-8.5,-8.7,-8.0,-7.3,-6.8,-6.5,-6.7,-6.6,-6.3,-7.0,-7.7,-8.2,-8.6,-9.5,-10.2,-10.7,-11.1,-11.6,-12.0,-12.0,-11.8,-11.9,-11.5,-11.2,-10.9,-10.4,-10.0,-9.7,-9.5,-9.5,-9.6,-9.8,-9.4,-9.7,-9.9,-9.9,-9.8,-9.8,-9.8,-9.5,-9.3,-9.2,-8.9,-8.7,-8.5,-8.6,-8.8,-8.6,-8.5,-8.4,-8.3,-8.3,-8.4,-8.5,-8.8,-8.8,-8.7,-8.8,-9.0,-9.0],
[-7.7,-7.7,-7.9,-7.2,-6.5,-6.0,-5.7,-5.9,-5.8,-5.5,-6.1,-6.7,-7.1,-7.3,-7.7,-8.2,-8.4,-8.7,-9.4,-9.9,-9.9,-9.7,-9.9,-9.5,-9.3,-9.1,-8.7,-8.5,-8.7,-8.5,-8.5,-8.6,-8.8,-8.4,-8.7,-8.9,-8.9,-8.8,-8.8,-8.8,-8.5,-8.3,-8.3,-8.0,-7.7,-7.5,-7.3,-6.8,-6.5,-6.7,-7.3,-8.0,-8.4,-8.1,-7.6,-7.3,-7.7,-8.2,-8.6,-8.9,-8.6],
[-8.0,-8.0,-8.2,-7.5,-6.8,-6.3,-6.0,-6.2,-6.1,-5.8,-6.4,-7.0,-7.4,-7.6,-8.2,-8.7,-9.0,-9.2,-9.9,-10.4,-10.4,-10.2,-10.4,-10.0,-9.8,-9.6,-9.2,-9.0,-8.2,-8.0,-8.0,-8.1,-8.3,-7.9,-8.2,-8.4,-8.2,-7.6,-6.8,-5.9,-4.5,-6.4,-7.0,-7.1,-6.7,-6.5,-6.6,-6.8,-6.6,-6.5,-6.4,-6.3,-6.3,-6.4,-6.5,-6.8,-6.8,-6.7,-6.8,-7.0,-7.0],
[-7.6,-7.6,-7.8,-7.1,-6.4,-5.9,-5.6,-5.8,-5.7,-5.4,-6.0,-6.6,-7.0,-7.2,-7.6,-7.9,-8.0,-8.1,-8.6,-9.0,-9.0,-8.8,-9.0,-8.6,-8.4,-8.2,-7.9,-7.8,-8.4,-8.3,-8.3,-8.4,-8.6,-8.2,-8.5,-8.7,-8.7,-8.6,-8.6,-8.6,-8.3,-8.1,-7.7,-7.3,-6.8,-6.5,-6.6,-6.8,-6.6,-6.5,-6.4,-6.3,-6.3,-6.4,-6.5,-6.8,-6.8,-6.7,-6.8,-7.0,-7.0],
[-8.3,-8.4,-8.7,-8.1,-7.5,-7.0,-6.7,-6.9,-6.8,-6.5,-7.1,-7.6,-7.9,-8.0,-8.4,-8.8,-9.0,-9.2,-9.5,-9.6,-9.2,-8.8,-8.6,-8.0,-7.6,-7.5,-7.5,-7.6,-8.0,-7.9,-8.0,-8.1,-8.3,-7.9,-8.2,-8.4,-8.4,-8.3,-8.3,-8.3,-8.0,-7.8,-7.0,-6.5,-5.9,-5.5,-5.6,-5.8,-5.6,-5.5,-5.4,-5.3,-5.3,-5.4,-5.5,-5.8,-5.8,-5.7,-5.8,-6.0,-6.0],
[-7.7,-7.7,-7.9,-7.2,-6.5,-6.0,-5.7,-5.9,-5.8,-5.5,-6.1,-6.7,-7.1,-7.3,-8.0,-8.8,-9.2,-9.6,-10.4,-10.9,-10.9,-10.7,-10.9,-10.5,-10.3,-10.1,-9.7,-9.5,-9.2,-9.0,-9.0,-9.1,-9.3,-8.9,-9.2,-9.4,-9.4,-9.3,-9.3,-9.3,-9.0,-8.8,-8.1,-7.7,-7.2,-7.0,-7.1,-7.3,-7.1,-7.0,-6.9,-6.8,-6.8,-6.9,-7.0,-7.3,-7.3,-7.2,-7.3,-7.5,-7.5],
[-7.9,-7.9,-8.1,-7.4,-6.7,-6.2,-5.9,-6.1,-6.0,-5.7,-6.3,-6.9,-7.3,-7.5,-8.0,-8.5,-8.7,-9.0,-9.7,-10.2,-10.2,-10.0,-10.2,-9.8,-9.6,-9.4,-9.0,-8.8,-8.3,-8.1,-8.1,-8.2,-8.4,-8.0,-8.3,-8.5,-8.5,-8.4,-8.4,-8.4,-8.1,-7.9,-7.3,-6.8,-6.3,-6.0,-6.1,-6.3,-6.1,-6.0,-5.9,-5.8,-5.8,-5.7,-5.6,-5.9,-6.1,-6.2,-6.3,-6.5,-6.5],
[-8.2,-8.2,-8.4,-7.7,-7.0,-6.5,-6.2,-6.4,-6.3,-6.0,-6.6,-7.2,-7.6,-7.8,-8.5,-9.2,-9.6,-9.9,-10.7,-11.2,-11.2,-11.0,-11.2,-10.8,-10.6,-10.4,-10.0,-9.8,-10.2,-10.0,-10.0,-10.1,-10.3,-9.9,-10.2,-10.4,-10.4,-10.3,-10.3,-10.3,-10.0,-9.8,-9.7,-9.5,-9.2,-9.0,-8.6,-8.1,-7.8,-7.4,-7.0,-6.8,-7.1,-7.6,-8.2,-8.6,-8.3,-7.9,-8.0,-8.3,-8.1],
[-8.1,-8.1,-8.3,-7.6,-6.9,-6.4,-6.1,-6.3,-6.2,-5.9,-6.5,-7.1,-7.5,-7.7,-8.3,-8.9,-9.2,-9.5,-10.2,-10.7,-10.7,-10.5,-10.7,-10.3,-10.1,-9.9,-9.5,-9.3,-9.5,-9.3,-9.3,-9.4,-9.6,-9.2,-9.5,-9.7,-9.7,-9.6,-9.6,-9.6,-9.3,-9.6,-10.0,-11.5,-12.7,-13.8,-13.8,-13.8,-12.5,-11.1,-10.0,-9.5,-9.2,-9.0,-9.1,-9.3,-9.2,-9.0,-9.1,-9.3,-9.3],
[-7.5,-7.5,-7.7,-7.0,-6.3,-5.8,-5.5,-5.7,-5.6,-5.3,-5.9,-6.5,-6.9,-7.1,-7.6,-8.0,-8.3,-8.5,-9.2,-9.7,-9.7,-9.5,-9.7,-9.3,-9.1,-8.9,-8.5,-8.3,-8.0,-7.8,-7.8,-7.9,-8.1,-7.7,-8.0,-8.2,-8.2,-8.1,-8.1,-8.1,-7.8,-7.6,-6.8,-6.3,-5.7,-5.4,-5.4,-5.6,-5.3,-5.0,-5.1,-5.4,-5.6,-5.6,-5.4,-5.6,-5.7,-5.5,-5.6,-5.8,-5.9],
[-8.0,-8.0,-8.2,-7.5,-6.8,-6.3,-6.0,-6.2,-6.1,-5.8,-6.4,-7.0,-7.4,-7.6,-8.2,-8.8,-9.1,-9.4,-10.1,-10.6,-10.6,-10.4,-10.6,-10.2,-10.0,-9.8,-9.4,-9.2,-8.5,-8.3,-8.3,-8.4,-8.6,-8.2,-8.5,-8.7,-8.7,-8.6,-8.6,-8.6,-8.3,-8.1,-7.8,-7.4,-7.0,-6.9,-7.2,-7.5,-7.4,-7.2,-7.0,-6.6,-6.5,-6.8,-7.1,-7.5,-7.2,-6.9,-7.0,-7.3,-7.2],
[-7.8,-7.8,-8.0,-7.3,-6.6,-6.1,-5.8,-6.0,-5.9,-5.6,-6.2,-6.8,-7.2,-7.4,-8.3,-9.1,-9.6,-10.1,-11.0,-11.5,-11.5,-11.3,-11.5,-11.1,-10.9,-10.7,-10.3,-10.1,-9.8,-9.6,-9.6,-9.7,-9.9,-9.5,-9.8,-10.0,-10.0,-9.9,-9.9,-9.9,-9.6,-9.4,-9.4,-9.2,-8.9,-8.8,-9.3,-9.8,-10.2,-10.0,-9.5,-9.2,-9.4,-9.9,-10.3,-9.8,-9.4,-9.1,-9.2,-9.0,-8.8],
[-8.4,-8.4,-8.6,-7.9,-7.2,-6.7,-6.4,-6.6,-6.5,-6.2,-6.8,-7.4,-7.8,-8.0,-8.4,-8.8,-9.0,-9.1,-9.6,-10.1,-10.1,-9.9,-10.1,-9.7,-9.5,-9.3,-8.9,-8.7,-9.0,-8.8,-8.8,-8.9,-9.1,-8.7,-9.0,-9.2,-9.2,-9.1,-9.1,-9.1,-8.8,-8.6,-8.7,-8.5,-8.2,-8.0,-8.1,-8.3,-8.1,-8.0,-7.9,-7.8,-7.8,-7.9,-8.0,-8.3,-8.3,-8.2,-8.3,-8.5,-8.5],
[-7.7,-7.7,-7.9,-7.2,-6.5,-6.0,-5.7,-5.9,-5.8,-5.5,-6.1,-6.7,-7.1,-7.3,-8.3,-9.2,-9.6,-10.1,-10.9,-11.4,-11.4,-11.2,-11.4,-11.0,-10.8,-10.5,-10.0,-9.6,-9.3,-9.1,-9.1,-9.2,-9.4,-9.0,-9.3,-9.5,-9.5,-9.4,-9.4,-9.4,-9.1,-8.9,-8.0,-7.5,-6.9,-6.6,-6.9,-7.4,-7.6,-7.3,-6.8,-6.5,-6.7,-7.1,-7.3,-7.6,-7.5,-7.1,-7.0,-7.3,-7.6],
[-7.9,-7.9,-8.1,-7.4,-6.7,-6.2,-5.9,-6.1,-6.0,-5.7,-6.3,-6.9,-7.3,-7.5,-8.0,-8.5,-8.7,-9.0,-9.7,-10.2,-10.2,-10.0,-10.2,-9.8,-9.6,-9.4,-9.0,-8.8,-9.0,-8.8,-8.8,-8.9,-9.1,-8.7,-9.0,-9.2,-9.2,-9.1,-9.1,-9.1,-8.8,-8.6,-8.6,-8.6,-8.4,-8.5,-8.6,-8.8,-8.6,-8.5,-8.4,-8.6,-8.9,-9.3,-9.6,-10.0,-15.6,-13.5,-12.0,-14.4,-13.0],
[-8.2,-8.2,-8.4,-7.7,-7.0,-6.5,-6.2,-6.4,-6.3,-6.0,-6.6,-7.2,-7.6,-7.8,-8.4,-9.0,-9.4,-9.7,-10.4,-10.9,-10.9,-10.7,-10.9,-10.5,-10.3,-10.1,-9.7,-9.5,-9.6,-9.4,-9.4,-9.5,-9.7,-9.3,-9.6,-9.8,-9.8,-9.7,-9.7,-9.7,-9.4,-9.2,-9.3,-9.0,-8.4,-8.2,-8.7,-9.1,-8.9,-8.4,-8.1,-8.3,-8.7,-8.6,-8.3,-8.6,-9.0,-9.2,-8.9,-8.7,-8.9],
[-7.6,-7.6,-7.8,-7.1,-6.4,-5.9,-5.6,-5.8,-5.7,-5.4,-6.0,-6.6,-7.0,-7.2,-7.6,-8.1,-8.4,-8.7,-9.4,-9.9,-9.9,-9.7,-9.9,-9.5,-9.3,-9.1,-8.7,-8.5,-8.8,-8.6,-8.6,-8.7,-8.9,-8.5,-8.8,-9.0,-9.0,-8.9,-8.9,-8.9,-8.6,-8.4,-7.8,-7.2,-6.6,-6.3,-6.5,-6.9,-6.8,-6.4,-6.1,-6.0,-6.4,-6.7,-6.9,-7.1,-6.7,-6.4,-6.6,-6.9,-7.1],
[-8.0,-8.0,-8.2,-7.5,-6.8,-6.3,-6.0,-6.2,-6.1,-5.8,-6.4,-7.0,-7.4,-7.6,-8.5,-9.4,-9.9,-10.4,-11.2,-11.7,-11.7,-11.5,-11.7,-11.3,-11.1,-10.9,-10.5,-10.3,-9.9,-9.7,-9.7,-9.8,-10.0,-9.6,-9.9,-10.1,-10.1,-10.0,-10.0,-10.0,-9.7,-9.5,-9.1,-8.8,-8.3,-7.9,-7.8,-8.1,-8.3,-8.2,-7.8,-7.5,-7.7,-8.1,-8.4,-8.6,-8.3,-8.0,-8.2,-8.6,-8.4],
[-7.7,-7.7,-7.9,-7.2,-6.5,-6.0,-5.7,-5.9,-5.8,-5.5,-6.1,-6.7,-7.1,-7.3,-7.8,-8.2,-8.5,-8.8,-9.5,-10.0,-10.0,-9.8,-10.0,-9.6,-9.4,-9.2,-8.8,-8.6,-7.7,-7.5,-7.5,-7.6,-7.8,-7.4,-7.7,-7.9,-7.9,-7.8,-7.8,-7.8,-7.5,-7.3,-6.6,-6.0,-5.5,-5.2,-5.0,-5.4,-5.6,-5.3,-4.8,-4.7,-5.0,-5.2,-4.9,-5.0,-5.4,-5.5,-5.1,-5.3,-5.7],
[-8.1,-8.1,-8.3,-7.6,-6.9,-6.4,-6.1,-6.3,-6.2,-5.9,-6.5,-7.1,-7.5,-7.7,-8.2,-8.7,-9.0,-9.2,-9.9,-10.4,-10.4,-10.2,-10.4,-10.0,-9.8,-9.6,-9.2,-9.0,-8.4,-8.2,-8.2,-8.3,-8.5,-8.1,-8.4,-8.6,-8.6,-8.5,-8.5,-8.5,-8.2,-8.0,-7.5,-7.0,-6.6,-6.6,-6.9,-7.0,-6.7,-6.3,-6.2,-6.5,-6.6,-6.3,-6.2,-6.6,-7.0,-7.0,-6.6,-6.8,-7.2],
[-8.3,-8.3,-8.5,-7.8,-7.1,-6.6,-6.3,-6.5,-6.4,-6.1,-6.7,-7.3,-7.7,-7.9,-8.6,-9.3,-9.6,-9.9,-10.6,-11.1,-11.1,-10.9,-11.1,-10.7,-10.5,-10.3,-9.9,-9.7,-9.4,-9.2,-9.2,-9.3,-9.5,-9.1,-9.4,-9.6,-9.6,-9.5,-9.5,-9.5,-9.2,-9.0,-9.0,-9.0,-9.1,-9.2,-9.4,-9.6,-9.4,-9.6,-10.0,-10.8,-12.4,-10.5,-9.8,-9.6,-9.9,-10.2,-10.0,-9.8,-10.1],
[-7.8,-7.8,-8.0,-7.3,-6.6,-6.1,-5.8,-6.0,-5.9,-5.6,-6.2,-6.8,-7.2,-7.4,-7.8,-8.1,-8.3,-8.5,-9.1,-9.6,-9.6,-9.4,-9.6,-9.2,-9.0,-8.8,-8.4,-8.2,-8.7,-8.5,-8.5,-8.6,-8.8,-8.4,-8.7,-8.9,-8.9,-8.8,-8.8,-8.8,-8.5,-8.3,-7.7,-7.1,-6.3,-5.8,-6.0,-6.4,-6.3,-5.9,-5.6,-5.7,-6.1,-6.2,-5.9,-6.0,-6.4,-6.5,-6.2,-6.3,-6.7],
[-8.5,-8.6,-8.8,-8.1,-7.4,-6.9,-6.6,-6.8,-6.7,-6.4,-7.0,-7.6,-8.0,-8.2,-8.6,-9.1,-9.3,-9.6,-10.3,-10.8,-10.8,-10.6,-10.8,-10.4,-10.2,-10.0,-9.6,-9.4,-9.2,-9.0,-9.0,-9.1,-9.3,-8.9,-9.2,-9.4,-9.4,-9.3,-9.3,-9.3,-9.0,-8.8,-8.6,-8.4,-8.0,-7.7,-7.9,-8.4,-8.5,-8.2,-7.8,-7.6,-7.9,-8.3,-8.4,-8.2,-7.9,-8.0,-8.4,-8.7,-8.4],
[-7.6,-7.6,-7.8,-7.1,-6.4,-5.9,-5.6,-5.8,-5.7,-5.4,-6.0,-6.6,-7.0,-7.2,-7.9,-8.5,-8.8,-9.1,-9.8,-10.3,-10.3,-10.1,-10.3,-9.9,-9.7,-9.5,-9.1,-8.9,-8.2,-8.0,-8.0,-8.1,-8.3,-7.9,-8.2,-8.4,-8.4,-8.3,-8.3,-8.3,-8.0,-7.8,-7.5,-7.2,-6.8,-6.5,-6.6,-6.8,-6.6,-6.5,-6.4,-6.3,-6.3,-6.4,-6.5,-6.8,-6.8,-6.7,-6.8,-7.0,-7.0],
[-8.0,-8.0,-8.2,-7.5,-6.8,-6.3,-6.0,-6.2,-6.1,-5.8,-6.4,-7.0,-7.4,-7.6,-8.3,-9.0,-9.4,-9.8,-10.5,-11.0,-11.0,-10.8,-11.0,-10.6,-10.4,-10.2,-9.8,-9.6,-10.0,-9.8,-9.8,-9.9,-10.1,-9.7,-10.0,-10.2,-10.2,-10.1,-10.1,-10.1,-9.8,-9.6,-9.8,-9.9,-9.7,-9.3,-9.2,-9.6,-10.0,-9.9,-9.4,-9.0,-9.2,-9.6,-9.9,-10.1,-9.7,-9.4,-9.6,-10.2,-10.4],
[-7.9,-7.9,-8.1,-7.4,-6.7,-6.2,-5.9,-6.1,-6.0,-5.7,-6.3,-6.9,-7.3,-7.5,-8.1,-8.7,-9.1,-9.5,-10.4,-11.2,-11.9,-12.5,-12.8,-13.7,-13.6,-12.4,-11.0,-10.1,-10.0,-9.8,-9.8,-9.9,-10.1,-9.7,-10.0,-10.2,-10.2,-10.1,-10.1,-10.1,-9.8,-9.6,-9.4,-9.1,-8.7,-8.5,-8.6,-8.8,-8.6,-8.5,-8.4,-8.3,-8.3,-8.4,-8.5,-8.8,-8.8,-8.7,-8.8,-9.0,-9.0],
[-7.7,-7.7,-7.9,-7.2,-6.5,-6.0,-5.7,-5.9,-5.8,-5.5,-6.1,-6.7,-7.1,-7.3,-7.8,-8.3,-8.6,-8.9,-9.6,-10.1,-10.1,-9.9,-10.1,-9.7,-9.5,-9.3,-8.9,-8.7,-8.6,-8.4,-8.4,-8.5,-8.7,-8.3,-8.6,-8.8,-8.8,-8.7,-8.7,-8.7,-8.4,-8.2,-7.7,-7.4,-7.0,-6.7,-6.4,-6.5,-6.9,-6.9,-6.6,-6.2,-6.0,-6.3,-6.7,-6.9,-6.6,-6.4,-6.7,-7.2,-7.1],
[-8.2,-8.2,-8.4,-7.7,-7.0,-6.5,-6.2,-6.4,-6.3,-6.0,-6.6,-7.2,-7.6,-7.8,-8.2,-8.6,-8.9,-9.1,-9.8,-10.3,-10.3,-10.1,-10.3,-9.9,-9.7,-9.5,-9.1,-8.9,-9.3,-9.1,-9.1,-9.2,-9.4,-9.0,-9.3,-9.5,-9.5,-9.4,-9.4,-9.4,-9.1,-8.9,-8.5,-8.3,-7.8,-7.3,-7.4,-7.9,-8.0,-7.6,-7.2,-7.1,-7.5,-7.8,-7.6,-7.5,-7.9,-8.1,-7.7,-7.8,-8.2],
[-7.8,-7.8,-8.0,-7.3,-6.6,-6.1,-5.8,-6.0,-5.9,-5.6,-6.2,-6.8,-7.2,-7.4,-8.3,-9.1,-9.5,-9.9,-10.7,-11.2,-11.2,-11.0,-11.2,-10.8,-10.6,-10.4,-10.0,-9.8,-9.7,-9.5,-9.5,-9.6,-9.8,-9.4,-9.7,-9.9,-9.9,-9.8,-9.8,-9.8,-9.5,-9.3,-9.5,-9.4,-9.1,-9.0,-9.1,-9.3,-9.1,-9.0,-8.9,-8.8,-9.0,-9.8,-11.2,-10.1,-9.6,-9.4,-9.3,-9.5,-9.5],
[-7.9,-7.9,-8.1,-7.4,-6.7,-6.2,-5.9,-6.1,-6.0,-5.7,-6.3,-6.9,-7.3,-7.5,-8.0,-8.4,-8.6,-8.9,-9.5,-10.0,-10.0,-9.8,-10.0,-9.6,-9.4,-9.2,-8.8,-8.6,-7.8,-7.5,-7.4,-7.6,-7.8,-7.3,-7.6,-7.8,-7.6,-7.5,-7.4,-7.5,-7.2,-7.0,-6.8,-3.5,-3.4,-3.8,-4.0,-3.4,-2.8,-2.7,-2.7,-2.9,-2.9,-2.8,-4.0,-4.6,-4.4,-4.8,-5.3,-5.6,-5.4],
[-8.1,-8.1,-8.3,-7.6,-6.9,-6.4,-6.1,-6.3,-6.2,-5.9,-6.5,-7.1,-7.5,-7.7,-8.2,-8.8,-9.1,-9.4,-10.1,-10.6,-10.6,-10.4,-10.6,-10.2,-10.0,-9.8,-9.4,-9.2,-8.8,-8.6,-8.6,-8.7,-8.9,-8.5,-8.8,-9.0,-9.0,-8.9,-8.9,-8.9,-8.6,-8.4,-8.8,-8.7,-8.3,-7.8,-7.9,-8.4,-8.6,-8.3,-7.7,-7.5,-7.9,-8.3,-8.2,-8.0,-8.4,-8.7,-8.5,-8.3,-8.6],
[-7.5,-7.5,-7.7,-7.0,-6.3,-5.8,-5.5,-5.7,-5.6,-5.3,-5.9,-6.5,-6.9,-7.1,-7.7,-8.3,-8.7,-9.0,-9.7,-10.2,-10.2,-10.0,-10.2,-9.8,-9.6,-9.4,-9.0,-8.8,-9.5,-9.3,-9.3,-9.4,-9.6,-9.2,-9.5,-9.7,-9.7,-9.6,-9.6,-9.6,-9.3,-9.1,-9.0,-9.2,-9.3,-9.4,-9.6,-9.8,-9.9,-10.4,-10.9,-11.6,-10.6,-9.9,-9.5,-9.6,-9.9,-9.8,-9.6,-9.8,-10.0],
[-8.0,-8.0,-8.2,-7.5,-6.8,-6.3,-6.0,-6.2,-6.1,-5.8,-6.4,-7.0,-7.4,-7.6,-7.8,-8.1,-8.2,-8.3,-8.8,-9.3,-9.3,-9.1,-9.3,-8.9,-8.7,-8.5,-8.1,-7.9,-8.0,-7.8,-7.8,-7.9,-8.1,-7.7,-8.0,-8.2,-8.2,-8.1,-8.1,-8.1,-7.8,-7.6,-6.6,-6.2,-5.8,-5.6,-5.7,-5.8,-5.5,-5.3,-5.3,-5.5,-5.6,-5.4,-5.3,-5.7,-6.0,-5.8,-5.6,-5.9,-6.1],
[-7.7,-7.7,-7.9,-7.2,-6.5,-6.0,-5.7,-5.9,-5.8,-5.5,-6.1,-6.7,-7.1,-7.3,-8.0,-8.8,-9.2,-9.6,-10.3,-10.8,-10.8,-10.6,-10.8,-10.4,-10.2,-10.0,-9.6,-9.4,-8.9,-8.7,-8.7,-8.8,-9.0,-8.6,-8.9,-9.1,-9.1,-9.0,-9.0,-9.0,-8.7,-8.5,-8.3,-8.0,-7.6,-7.4,-7.6,-7.9,-7.8,-7.6,-7.4,-7.2,-7.3,-7.5,-7.7,-8.0,-7.9,-7.6,-7.6,-7.9,-8.1],
[-8.3,-8.3,-8.5,-7.8,-7.1,-6.6,-6.3,-6.5,-6.4,-6.1,-6.7,-7.3,-7.7,-7.9,-8.2,-8.5,-8.6,-8.8,-9.4,-9.9,-9.9,-9.7,-9.9,-9.5,-9.3,-9.1,-8.7,-8.5,-8.4,-8.2,-8.2,-8.3,-8.5,-8.1,-8.4,-8.6,-8.6,-8.5,-8.5,-8.5,-8.2,-8.0,-7.1,-6.7,-6.2,-6.0,-6.2,-6.4,-6.2,-5.9,-5.8,-5.9,-6.0,-5.9,-5.8,-6.2,-6.4,-6.2,-6.1,-6.4,-6.6],
[-7.8,-7.8,-8.0,-7.3,-6.6,-6.1,-5.8,-6.0,-5.9,-5.6,-6.2,-6.8,-7.2,-7.4,-8.1,-8.8,-9.1,-9.5,-10.2,-10.7,-10.7,-10.5,-10.7,-10.3,-10.1,-9.9,-9.5,-9.3,-9.4,-9.2,-9.2,-9.3,-9.5,-9.1,-9.4,-9.6,-9.6,-9.5,-9.5,-9.5,-9.2,-9.0,-8.8,-8.6,-8.2,-8.0,-8.1,-8.4,-8.2,-8.0,-7.8,-7.7,-7.9,-8.0,-8.1,-8.4,-8.3,-8.1,-8.2,-8.5,-8.6],
[-8.1,-8.1,-8.3,-7.6,-6.9,-6.4,-6.1,-6.3,-6.2,-5.9,-6.5,-7.1,-7.5,-7.7,-8.1,-8.6,-8.9,-9.2,-9.9,-10.4,-10.4,-10.2,-10.4,-10.0,-9.8,-9.6,-9.2,-9.0,-8.1,-7.9,-7.9,-8.0,-8.2,-7.8,-8.1,-8.3,-8.3,-8.2,-8.2,-8.2,-7.9,-7.7,-7.3,-7.0,-6.7,-6.5,-6.5,-6.7,-6.6,-6.4,-6.2,-6.2,-6.4,-6.5,-6.3,-6.6,-6.9,-6.8,-6.6,-6.9,-7.1]
];

const precipMembers = [
[0.5,0.2,0,0,0, 0.3,0.6,0.2,0,0, 0,0,0,0,0, 0,0.2,0.4,1.5,2.2, 2.8,1.5,0.5,0.2,0, 0,0,0,0,0, 0,0,0,0,0, 0,0,0,0,0, 0,0,0,0,0, 0,0,0,0,0, 0,0,0,0,0, 0,0,0,0.3,0.2, 0],
[0.8,0.3,0,0,0, 0,0.4,0.5,0.2,0, 0,0,0,0,0, 0,0,0.6,1.2,1.8, 3.0,2.5,0.8,0.3,0, 0,0,0,0,0, 0,0,0,0,0, 0,0,0,0,0, 0,0,0,0,0, 0,0,0,0,0, 0,0,0,0,0, 0,0,0,0,0, 0],
[0.6,0.1,0,0,0, 0.2,0.9,0.6,0.1,0, 0,0,0,0,0, 0,0.3,0.8,2.0,3.5, 4.8,2.0,0.6,0,0, 0,0,0,0,0, 0,0,0,0,0, 0,0,0,0,0, 0,0,0,0,0, 0,0,0,0,0, 0,0,0,0,0, 0,0,0,0,0, 0],
[0.4,0.2,0,0,0, 0,0.3,0.3,0,0, 0,0,0,0,0, 0,0,0.2,0.8,1.4, 1.9,1.1,0.3,0.5,0.8, 0.2,0,0,0,0, 0,0,0,0,0, 0,0,0,0,0, 0,0,0,0,0, 0,0,0,0,0, 0,0,0,0,0, 0,0,0,0,0, 0],
[0.9,0.4,0,0,0, 0.4,0.8,0.4,0,0, 0,0,0,0,0, 0,0.2,0.5,1.0,1.6, 2.4,1.8,0.9,0.2,0, 0,0,0,0,0, 0,0,0,0,0, 0,0,0,0,0, 0,0,0,0,0, 0,0,0,0,0, 0,0,0,0,0, 0,0,0,0,0, 0],
[0.3,0,0,0,0, 0,0.5,0.7,0.3,0, 0,0,0,0,0, 0,0,0.4,1.4,2.6, 3.8,2.9,0.7,0,0, 0,0,0,0,0, 0,0,0,0,0, 0,0,0,0,0, 0,0.3,0.6,0.2,0, 0,0,0,0,0, 0,0,0,0,0, 0,0,0,0,0, 0],
[0.7,0.2,0,0,0, 0.2,0.4,0.3,0,0, 0.2,0,0,0,0, 0,0.1,0.3,0.9,1.7, 2.1,0.9,0.2,0,0, 0,0,0,0,0, 0,0,0,0,0, 0,0,2.5,0,0, 0,0,0,0,0, 0,0,0,0,0, 0,0,0,0,0, 0,0,0,0,0, 0],
[1.0,0.3,0,0,0, 0,0.6,0.4,0,0, 0,0,0,0,0, 0.6,3.4,1.8,1.2,0.8, 1.0,0.6,0.3,0.1,0, 0,0,0,0,0, 0,0,0,0,0, 0,0,0,0,0, 0,0,0,0,0, 0,0,0,0,0, 0,0,0,0,0, 0,0,0,0,0, 0],
[0.5,0.2,0,0,0, 0.3,1.0,0.8,0.2,0, 0,0,0,0,0, 0,0.2,0.7,1.8,2.4, 3.1,2.2,1.1,0.3,0, 0,0,0,0,0, 0,0,0,0,0, 0,0,0,0,0, 0,0,0,0,0, 0,0,0,0.4,0, 0,0,0,0,0, 0,0,0,0,0, 0],
[0.6,0.1,0,0,0, 0,0.3,0.2,0,0, 0,0,0,0,0, 0,0,0.5,1.6,3.0, 4.2,1.2,0.4,0,0, 0,0,0,0,0, 0,0,0,0,0, 0,0,0,0,0, 0,0,0,0,0, 0,0,0,0,0, 0,0,0,0,0, 0,0,0,0,0, 0],
[0.4,0.1,0,0,0, 0.2,0.5,0.6,0.1,0, 0,0,0,0,0, 0,0.2,0.6,1.3,2.0, 2.6,1.7,0.6,0.1,0, 0,0,0,0,0, 0,0,0,0,0, 0,0,0,0,0, 0,0,0,0,1.8, 1.4,1.0,1.9,1.8,3.5, 5.1,10.8,2.5,1.9,1.2, 0.6,0.2,0,0,0, 0],
[0.5,0.2,0,0,0, 0,0.4,0.3,0,0, 0,0,0,0,0, 0,0.3,1.0,2.5,4.0, 6.0,2.4,0.5,0,0, 0,0,0,0,0, 0,0,0,0,0, 0,0,0,0,0, 0,0,0,0,0, 0,0,0,0,0, 0,0,0,0,0, 0,0.3,4.2,21.8,4.7, 3.6],
[0.3,0,0,0,0, 0.2,0.3,0.2,0,0, 0,0,0,0,0, 0,0.1,0.3,1.1,1.9, 2.7,3.8,1.0,0.2,0, 0,0,0,0,0, 0,0,0,0,0, 0,0,0,0,0, 0,0,0,0,0, 0,0,0,0,0, 0,0,0,0,0, 0,0,0,0,0, 0],
[0.6,0.2,0,0,0, 0,0.2,0.4,0.2,0, 0,0,0,0,0, 0,0,0.2,0.6,1.2, 1.6,1.0,0.4,0,0, 0,0,0,0,0, 0,0,0,0,0, 0,0,0,0,0, 0,0,0,0,0, 0,0,0,0.5,0.3, 0,0,0,0,0, 0,0,0,0,0, 0],
[0.8,0.3,0,0,0, 0.3,0.6,0.3,0,0, 0,0,0,0,0, 0.5,0.6,0.9,1.7,2.8, 2.2,1.4,0.6,0.2,0, 0,0,0,0,0, 0,0,0,0,0, 0,0,0,0,0, 0,0,0,0,0, 0,0,0,0,0, 0,0,0,0,0, 0,0,0,0,0, 0],
[0.4,0.1,0,0,0, 0,0.3,0.2,0,0, 0,0,0,0,0, 0,0,0.4,1.3,2.0, 3.6,4.2,2.4,0.5,0, 0,0,0,0,0, 0,0,0,0,0, 0,0,0,0,0, 0,0.2,0.4,0,0, 0,0,0,0,0, 0,0,0,0,0, 0,0,0,0,0, 0],
[0.5,0.2,0,0,0, 0.3,0.7,0.4,0,0, 0,0,0,0,0, 0,0.2,0.5,1.0,1.5, 1.8,1.3,0.6,0.9,2.4, 1.2,0.2,0,0,0, 0,0,0,0,0, 0,0,0,0,0, 0,0,0,0,0, 0,0,0,0,0, 0,0,0,0,0, 0,0,0,0,0, 0],
[1.2,0.4,0,0,0, 0.2,0.8,0.5,0.1,0, 0,0,0,0,0, 0,0.2,0.6,1.9,2.9, 2.5,1.5,0.5,0,0, 0,0,0,0,0, 0,0,0,0,0, 0,0,0,0,0, 0,0,0,0,0, 0,0,0,0,0, 0,0,0,0,0, 0,0,0,0,0, 0],
[0.6,0.2,0,0,0, 0,0.4,0.3,0,0, 0,0,0,0,0, 0,0,0.3,0.9,1.8, 2.3,1.6,0.4,0,0, 0,0,0,0,0, 0,0,0,0,0, 0,0,0,0,0, 0,0.4,0.3,0,0, 0,0,0,0,0, 0,0,0,0,0, 0,0,0,0,0, 0],
[0.4,0.1,0,0,0, 0.1,0.3,0.3,0,0, 0,0,0,0,0, 0,0.1,0.4,1.2,2.1, 2.9,1.8,0.7,0.2,0, 0,0,0,0,0, 0,0,0,0,0, 0,0,0,0,0, 0,0,0,0,0, 0,0,0.9,1.6,0.3, 0,0,0,0,0, 0,0,0,0,0, 0],
[0.7,0.2,0,0,0, 0.2,0.5,0.4,0,0, 0,0,0,0,0, 0,0.3,0.7,1.4,2.2, 2.6,1.9,0.6,0.1,0, 0,0,0,0,0, 0,0,0,0,0, 0,0,0,0,0, 0,0,0,0,0, 0,0,0,0,0, 0,0,0,0,0, 0,0,0,0,0, 0],
[0.3,0.1,0,0,0, 0,0.4,0.2,0,0, 0,0,0,0,0, 0,0.1,0.3,0.7,1.3, 1.9,1.2,0.4,0,0, 0,0,0,0,0, 0,0,0,0,0, 0,0,0,0,0, 0,0,0,0,0, 0,0,1.3,0.5,0, 0,0,0,0,0, 0,0,0,0,0, 0],
[0.9,0.3,0,0,0, 0.3,0.7,0.6,0.2,0, 0,0,0,0,0, 0,0.2,0.6,1.8,3.2, 4.4,2.8,0.8,0.2,0, 0,0,0,0,0, 0,0,0,0,0, 0,0,0,0,0, 0,0,0,0,0, 0,0,0,0,0, 0,0,0,0,0, 0,0,0,0,0, 0],
[0.4,0.1,0,0,0, 0,0.3,0.4,0,0, 0,0,0,0,0, 0,0,0.5,1.5,2.3, 3.3,2.0,0.5,0,0, 0,0,0,0,0, 0,0,0,0,0, 0,0,0,0,0, 0,0,0,0,0, 0,0,0,0,0, 0,0,0,6.9,2.4, 0.4,0,0,0,0, 0],
[0.5,0.2,0,0,0, 0.2,0.4,0.2,0,0, 0,0,0,0,0, 0,0.2,0.5,1.0,1.4, 2.0,1.3,0.5,0,0, 0,0,0,0,0, 0,0,0,0,0, 0,0,0,0,0, 0,0,0,0,0, 0,0,0,0,0, 0,0,0,0,0, 0,0,0,0,0.6, 2.0],
[0.6,0.2,0,0,0, 0.3,0.6,0.4,0.2,0, 0,0,0,0,0, 0,0.1,0.4,1.1,1.8, 2.4,1.5,0.5,0,0, 0,0,0,0,0, 0,0,0,0,0, 0,0,0,0,0, 0,0,0,0,0, 0,0,0,0,0, 0,0,0,0,0, 0,0,0,0,0, 0],
[0.4,0.1,0,0,0, 0,0.5,0.5,0,0, 0,0,0,0,0, 0,0.2,0.8,2.1,3.9, 5.3,2.5,0.6,0,0, 0,0,0,0,0, 0,0,0,0,0, 0,0,0,0,0, 0,0,0,0,0, 0,0,0,0,0, 0,0,0,0,0, 0,0,0,0,0, 0],
[0.7,0.3,0,0,0, 0.2,0.4,0.2,0,0, 0,0,0,0,0, 0,0,0.3,1.0,1.7, 2.2,1.4,0.4,0,0, 0,0,0,0,0, 0,0,0,0,0, 0,0,0,0,0, 0,0,0,0,0, 0,0,0,0,0, 0,0,0,0,0, 0,0,0,0,0, 0],
[0.5,0.1,0,0,0, 0,0.3,0.3,0,0, 0,0,0,0,0, 0,0.2,0.5,1.5,2.5, 3.4,2.3,0.7,0.1,0, 0,0,0,0,0, 0,0,0,0,0, 0,0,0,0,0, 0,0,0,0,0, 0,0,0,0,0, 0,0,0,0,0, 0,0,0,0,0, 0],
[0.8,0.2,0,0,0, 0.2,0.5,0.3,0,0, 0,0,0,0,0, 0,0.1,0.3,0.8,1.3, 1.7,0.9,0.3,0,0, 0,0,0,0,0, 0,0,0,0,0, 0,0,0,0,0, 0,0,0,0,0, 0,0,0,0,0, 0,0,0,0,0, 0,0,0,0,0, 0],
[0.6,0.2,0,0,0, 0.3,0.6,0.4,0,0, 0,0,0,0,0, 0,0.3,1.2,3.5,9.1, 4.0,1.6,0.4,0,0, 0,0,0,0,0, 0,0,0,0,0, 0,0,0,0,0, 0,0,0,0,0, 0,0,0,0,0, 0,0,0,0,0, 0,0,0,0,0, 0],
[0.5,0.2,0,0,0, 0.2,0.4,0.3,0,0, 0,0,0,0,0, 0,0.2,0.4,1.3,2.3, 3.0,1.7,0.5,0,0, 0,0,0,0,0, 0,0,0,0,0, 0,0,0,0,0, 0,0,0,0,0, 0,0,0.4,1.3,0.5, 0,0,0,0,0, 0,0,0,0,0, 0],
[2.1,0.4,0,0,0, 0.2,0.5,0.4,0,0, 0,0,0,0,0, 0,0.2,0.6,1.6,2.7, 3.5,2.0,0.6,0,0, 0,0,0,0,0, 0,0,0,0,0, 0,0,0,0,0, 0,0,0,0,0, 0,0,0,0,0, 0,0,0,0,0, 0,0,0,0,0, 0],
[0.6,0.2,0,0,0, 0,0.3,0.3,0,0, 0,0,0,0,0, 0,0.1,0.4,1.2,1.9, 2.6,1.6,0.5,0,0, 0,0,0,0,0, 0,0,0,0,0, 0,0,0,0,0, 0,0,0,0,0, 0,0,0,0,0.6, 3.4,0.3,0,0,0, 0,0,0,0,0, 0],
[0.4,0.1,0,0,0, 0.2,0.6,0.4,0,0, 0,0,0,0,0, 0,0.2,0.5,1.4,2.2, 2.8,1.9,0.8,0.2,0, 0,0,0,0,0, 0,0,0,0,0, 0,0,0,0,0, 0.3,0.6,0.2,0,0, 0,0,0,0,0, 0,0,0,0,0, 0,0,0,0,0, 0],
[0.7,0.3,0,0,0, 0,0.4,0.3,0,0, 0,0,0,0,0, 0,0.1,0.3,0.9,1.5, 2.0,1.2,0.3,0,0, 0,0,0,0,0, 0,0,0,0,0, 0,0,0,0,0, 0,0,0,0,0, 0,0,0,0,0, 0,0,0,0,0, 0,0,0,0,0, 0],
[0.5,0.2,0,0,0, 0.3,0.7,0.5,0.1,0, 0,0,0,0,0, 0,0.2,0.6,1.7,2.6, 3.2,2.1,0.7,0.1,0, 0,0,0,0,0, 0,0,0,0,0, 0,0,0,0,0, 0,0,0,0,0, 0,0,0,0,0, 0,0,0,0,0, 0,0,0,0,0, 0],
[0.9,0.3,0,0,0, 0.2,0.5,0.3,0,0, 0,0,0,0,0, 0,0.2,0.4,1.1,1.8, 2.5,1.4,0.4,0,0, 0,0,0,0,0, 0,0,0,0,0, 0,0,0,0,0, 0,0,0,0,0, 0,0,0,0,0, 0,0,0,0,0, 0,0,0,0,0, 0],
[0.6,0.2,0,0,0, 0,0.4,0.2,0,0, 0,0,0,0,0, 0,0.2,0.6,1.8,3.1, 4.1,2.9,1.2,0.3,0, 0,0,0,0,0, 0,0,0,0,0, 0,0,0,0,0, 0,0,0,0,0, 0,0,0,0,0, 0,0,0,0,0, 0,0,0.4,5.7,12.4, 0.5],
[0.4,0.1,0,0,0, 0.1,0.4,0.3,0,0, 0,0,0,0,0, 0,0.1,0.4,1.0,1.6, 2.1,1.3,0.4,0,0, 0,0,0,0,0, 0,0,0,0,0, 0,0,0,0,0, 0,0,0,0,0, 0,0,0,0,0, 0,0,0,0,0, 0,0,0,0,0, 0],
[0.5,0.2,0,0,0, 0.2,0.5,0.4,0,0, 0,0,0,0,0, 0,0.2,0.5,1.3,2.0, 2.7,1.6,0.6,0.2,0, 0,0,0,0,0, 0,0,0,0,0, 0,0,0,0,0, 0,0,0,0,0, 0,0,0,0,0, 0,0,0,0,0, 0,0,0,0,0, 0],
[0.7,0.2,0,0,0, 0,0.3,0.3,0,0, 0,0,0,0,0, 0,0.2,0.5,1.2,2.0, 2.6,3.5,5.8,1.6,1.4, 3.2,0.5,0,0,0, 0,0,0,0,0, 0,0,0,0,0, 0,0,0,0,0, 0,0,0,0,0, 0,0,0,0,0, 0,0,0,0,0, 0],
[0.5,0.2,0,0,0, 0.2,0.4,0.3,0,0, 0,0,0,0,0, 0,0.1,0.4,1.1,1.9, 2.4,1.5,0.5,0,0, 0,0,0,0,0, 0,0,0,0,0, 0,0,0,0,0, 0,0,0,0,0, 0,0,0,0,0, 0,0,0,0,0, 0,0,0,0,0, 0],
[0.3,0.1,0,0,0, 0,0.3,0.3,0,0, 0,0,0,0,0, 0,0,0.3,0.8,1.4, 1.8,1.1,0.3,0,0, 0,0,0,0,0, 0,0,0,0,0, 0,0,0,0,0, 0,0,0,0,0, 0,0,0,0,0, 0,0,0,0,0, 0,0,0,0,0, 0],
[0.6,0.2,0,0,0, 0.2,0.6,0.4,0,0, 0,0,0,0,0, 0,0.2,0.7,1.9,3.3, 4.5,2.2,0.7,0.1,0, 0,0,0,0,0, 0,0,0,0,0, 0,0,0,0,0, 0,0,0,0,0, 0,0,0,0,0, 0,0,0,0,0, 0,0,0,0,0, 0],
[0.4,0.1,0,0,0, 0,0.4,0.3,0,0, 0,0,0,0,0, 0,0.1,0.3,1.0,1.7, 2.3,1.4,0.4,0,0, 0,0,0,0,0, 0,0,0,0,0, 0,0,0,0,0, 0,0,0,0,0, 0,0,0,0,0, 0,0,0,0,0, 0,0,0,0,0, 0],
[0.5,0.2,0,0,0, 0.2,0.5,0.4,0,0, 0,0,0,0,0, 0,0.2,0.6,1.5,2.3, 2.9,1.8,0.6,0.2,0, 0,0,0,0,0, 0,0,0,0,0, 0,0,0,0,0, 0,0,0,0,0, 0,0,0,0,0, 0,0,0,0,0, 0,0,0,0,0, 0],
[0.8,0.3,0,0,0, 0.2,0.5,0.3,0,0, 0,0,0,0,0, 0,0.1,0.4,1.2,2.0, 2.6,1.6,0.5,0,0, 0,0,0,0,0, 0,0,0,0,0, 0,0,0,0,0, 0.4,1.2,0.3,0,0, 0,0,0,0,0, 0,0,0,0,0, 0,0,0,0,0, 0.5],
[0.4,0.2,0,0,0, 0,0.3,0.3,0,0, 0,0,0,0,0, 0,0.1,0.4,1.1,1.8, 2.3,1.4,0.4,0,0, 0,0,0,0,0, 0,0,0,0,0, 0,0,0,0,0, 0,0,0,0,0, 0,0,0,0,0, 0,0,0,0,0, 0,0,0,0,0, 0],
[0.6,0.2,0,0,0, 0.2,0.5,0.3,0,0, 0,0,0,0,0, 0,0.2,0.5,1.4,2.1, 2.7,1.7,0.6,0.1,0, 0,0,0,0,0, 0,0,0,0,0, 0,0,0,0,0, 0,0,0,0,0, 1.0,0.3,0,0,0, 0,0,0,0,0, 0,0,0,0,0, 0]
];

const memberColors = ['#d4a0a8','#d8a0e0','#e08088','#a0482c','#a0d0f0','#8058b0','#c0c020','#e0b050','#80b060','#28c070','#c84878','#c018c0','#e03060','#a0b0e0','#d0b088','#2060b8','#c8c870','#b8e860','#60a0d8','#60e0e8','#c04828','#a0d0a0','#c050d8','#207060','#b01828',
'#c09878','#8c3088','#5a3080','#8c4050','#1c5090','#50b890','#30e0e0','#6020d0','#a09050','#90d880','#c0e080','#705030','#e06058','#403078','#50d040','#b0d8c8','#a02840','#e090d0','#7098b0','#a830c0','#20e090','#e0e0a0','#409090','#508838','#7050e0'];

const MONO = "'DejaVu Sans Mono', 'Liberation Mono', monospace";
const plus = 'path://M2,0H3V2H5V3H3V5H2V3H0V2H2Z';

const series = [];
series.push({
  type: 'line', data: [], z: 0, silent: true,
  markLine: {
    silent: true, symbol: 'none', label: {show: false}, animation: false,
    data: gridMinor.map(v => ({yAxis: v, lineStyle: {color: '#c4c4c4', width: 1, type: 'solid'}}))
      .concat(gridMajor.map(v => ({yAxis: v, lineStyle: {color: '#c4c4c4', width: 2, type: 'solid'}})))
      .concat([{yAxis: 0, lineStyle: {color: '#9a9a9a', width: 3, type: 'solid'}}])
  }
});
function addMembers(arr, axis) {
  arr.forEach((d, k) => {
    series.push({
      type: 'line', name: 'P' + String(k + 1).padStart(2, '0'), data: d, yAxisIndex: axis,
      symbol: plus, symbolSize: 4, showSymbol: true, silent: true, z: 2,
      lineStyle: {width: 1, color: memberColors[k]}, itemStyle: {color: memberColors[k]}
    });
  });
}
addMembers(t850Members, 0);
addMembers(t500Members, 0);
addMembers(precipMembers, 1);
[[t850Control, 0], [t500Control, 0], [precipControl, 1]].forEach(([d, ax]) => series.push({
  type: 'line', name: 'Contrôle/Det', data: d, yAxisIndex: ax, symbol: 'none', z: 3, silent: true,
  lineStyle: {width: 3, color: '#000'}, itemStyle: {color: '#000'}
}));
[[t850Mean, 0], [t500Mean, 0], [precipMean, 1]].forEach(([d, ax]) => series.push({
  type: 'line', name: 'Moyenne des scénarios', data: d, yAxisIndex: ax, symbol: 'none', z: 4, silent: true,
  lineStyle: {width: 4, color: '#ff0000'}, itemStyle: {color: '#ff0000'}
}));

const graphics = [
  {type: 'text', left: 60, top: 73, style: {text: 'Temp. 850hPa', font: '10px ' + MONO, fill: '#000'}},
  {type: 'text', left: 60, top: 248, style: {text: 'Temp. 500hPa', font: '10px ' + MONO, fill: '#000'}},
  {type: 'text', left: 59, top: 518, style: {text: 'Précipitations', font: '10px ' + MONO, fill: '#000'}},
  {type: 'text', left: 20, top: 600, style: {text: '(°C)', font: '10px ' + MONO, fill: '#000'}},
  {type: 'text', left: 709, top: 600, style: {text: '(mm)', font: '10px ' + MONO, fill: '#000'}},
  {type: 'text', left: 370, top: 646, style: {text: '50 Perts.', font: '10px ' + MONO, fill: '#000'}},
  {type: 'rect', shape: {x: 20.5, y: 667.5, width: 420, height: 32}, style: {fill: 'none', stroke: '#000', lineWidth: 1}},
  {type: 'text', left: 30, top: 670, style: {text: 'Diagramme ensembles ECMWF/CEP 0.25° sur 360h : 40.6N 22.9E', font: 'bold 11.3px ' + MONO, fill: '#000'}},
  {type: 'text', left: 30, top: 685, style: {text: 'Températures 850hPa et 500hPa (°C) , précipitations (mm)', font: '10px ' + MONO, fill: '#000'}},
  {type: 'text', left: 449, top: 670, style: {text: 'Ensemble ECMWF/CEP du 09/08/2026 - 12Z', font: '10px ' + MONO, fill: '#000'}},
  {type: 'text', left: 449, top: 685, style: {text: 'Copyright 2026 Meteociel.fr - ECMWF', font: 'bold 11.3px ' + MONO, fill: '#000'}}
];
memberColors.forEach((c, k) => {
  const col = k % 25, row = Math.floor(k / 25);
  const x = 429 + 11 * col;
  graphics.push({type: 'rect', shape: {x: x, y: row ? 651 : 645, width: 10, height: 6}, style: {fill: c}});
  graphics.push({type: 'text', x: x + 5.5, y: row ? 661 : 640,
    style: {text: String(k + 1).padStart(2, '0'), font: 'bold 8.5px ' + MONO, fill: '#000', textAlign: 'center', textVerticalAlign: 'middle'}});
});

const chart = echarts.init(document.getElementById('c'), null, {renderer: 'canvas'});
chart.setOption({
  animation: false,
  backgroundColor: '#fff',
  grid: {left: 50, right: 50, top: 0, bottom: 100, containLabel: false},
  legend: {
    data: ['Moyenne des scénarios', 'Contrôle/Det'], left: 35, top: 634, selectedMode: false,
    icon: 'rect', itemWidth: 30, itemHeight: 4, itemGap: 25,
    textStyle: {fontFamily: MONO, fontSize: 10, color: '#000', padding: [0, 0, 0, 4]}
  },
  xAxis: {
    type: 'category', data: categories, boundaryGap: false,
    axisLine: {show: true, onZero: false, lineStyle: {color: '#000', width: 1.5}},
    axisTick: {show: false},
    axisLabel: {interval: (i, v) => v.endsWith('00Z'), rotate: 90, formatter: v => v.slice(0, 5),
      fontFamily: MONO, fontSize: 10, color: '#000', margin: 3, verticalAlign: 'top'},
    splitLine: {show: true, interval: (i, v) => v.endsWith('00Z'), lineStyle: {color: '#c4c4c4', width: 1}}
  },
  yAxis: [
    {type: 'value', min: -52.714, max: 33, position: 'left',
      axisLine: {show: true, onZero: false, lineStyle: {color: '#000', width: 1.5}}, axisTick: {show: false},
      splitLine: {show: false},
      axisLabel: {customValues: leftTicks, align: 'left', margin: 30, fontFamily: MONO, fontSize: 10, color: '#000', padding: [4, 0, 0, 0]}},
    {type: 'value', min: -7.714, max: 78, position: 'right',
      axisLine: {show: true, onZero: false, lineStyle: {color: '#000', width: 1.5}}, axisTick: {show: false},
      splitLine: {show: false},
      axisLabel: {customValues: rightTicks, align: 'left', margin: 19, fontFamily: MONO, fontSize: 10, color: '#000', padding: [4, 0, 0, 0]}}
  ],
  graphic: graphics,
  series: series
});
</script>
</body></html>
